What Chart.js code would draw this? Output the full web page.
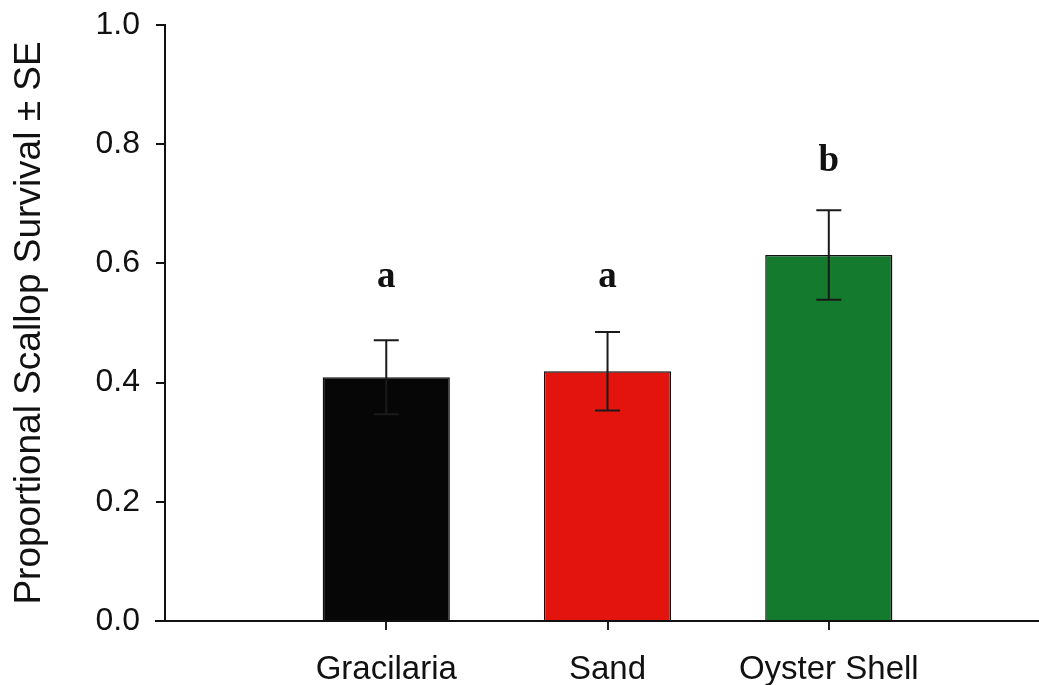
<!DOCTYPE html>
<html>
<head>
<meta charset="UTF-8">
<script src="https://cdn.jsdelivr.net/npm/chart.js"></script>
<title>Scallop survival</title>
<style>
    body { margin: 0; background: #fff; }
    #wrap { width: 1039px; height: 685px; position: relative; }
</style>
</head>
<body>
<div id="wrap"><canvas id="chart"></canvas></div>
<script>
// data
const categories = ['Gracilaria', 'Sand', 'Oyster Shell'];
const survival = [0.409, 0.419, 0.614];
const stdErr = [0.062, 0.066, 0.075];
const groupLetters = ['a', 'a', 'b'];
const letterLevels = [0.56, 0.56, 0.755];
const barColors = ['#060606', '#e3140e', '#137a2e'];

const sansFont = '"Liberation Sans", Arial, sans-serif';

// error bars + significance letters
const extras = {
    id: 'extras',
    afterDatasetsDraw(chart) {
        const ctx = chart.ctx;
        const y = chart.scales.y;
        const meta = chart.getDatasetMeta(0);
        ctx.save();
        meta.data.forEach((bar, i) => {
            const x = bar.x;
            const top = y.getPixelForValue(survival[i] + stdErr[i]);
            const bot = y.getPixelForValue(survival[i] - stdErr[i]);
            ctx.strokeStyle = '#1a1a1a';
            ctx.lineWidth = 2;
            ctx.beginPath();
            ctx.moveTo(x, top); ctx.lineTo(x, bot);
            ctx.moveTo(x - 12.5, top); ctx.lineTo(x + 12.5, top);
            ctx.moveTo(x - 12.5, bot); ctx.lineTo(x + 12.5, bot);
            ctx.stroke();

            ctx.fillStyle = '#111';
            ctx.font = 'bold 37px "Liberation Serif", "Times New Roman", serif';
            ctx.textAlign = 'center';
            ctx.textBaseline = 'alphabetic';
            ctx.fillText(groupLetters[i], x, y.getPixelForValue(letterLevels[i]));
        });
        // x axis line runs a little past the y axis
        const area = chart.chartArea;
        ctx.strokeStyle = '#111';
        ctx.lineWidth = 2;
        ctx.beginPath();
        ctx.moveTo(area.left - 10, area.bottom);
        ctx.lineTo(area.left, area.bottom);
        ctx.stroke();
        ctx.restore();
    }
};

new Chart(document.getElementById('chart'), {
    type: 'bar',
    data: {
        datasets: [{
            data: categories.map((c, i) => ({ x: i + 1, y: survival[i] })),
            backgroundColor: barColors,
            borderColor: '#111',
            borderWidth: 1.5,
            barPercentage: 0.605,
            categoryPercentage: 1
        }]
    },
    options: {
        responsive: true,
        maintainAspectRatio: false,
        animation: false,
        devicePixelRatio: 1,
        layout: { padding: { top: 25, right: 0, bottom: 0, left: 0 } },
        plugins: { legend: { display: false }, tooltip: { enabled: false } },
        scales: {
            x: {
                type: 'linear',
                min: 0,
                max: 3.95,
                offset: false,
                afterFit(scale) {
                    scale.height = 64;
                    scale.paddingLeft = 0;
                    scale.paddingRight = 0;
                },
                ticks: {
                    stepSize: 1,
                    autoSkip: false,
                    maxRotation: 0,
                    padding: 20,
                    color: '#111',
                    font: { family: sansFont, size: 33 },
                    callback: v => categories[v - 1] || ''
                },
                grid: {
                    offset: false,
                    drawOnChartArea: false,
                    tickLength: 9,
                    lineWidth: 2,
                    color: c => (c.tick && categories[c.tick.value - 1]) ? '#222' : 'rgba(0,0,0,0)'
                },
                border: { color: '#111', width: 2 }
            },
            y: {
                min: 0,
                max: 1,
                afterFit(scale) {
                    scale.width = 165;
                    scale.paddingTop = 0;
                    scale.paddingBottom = 0;
                },
                ticks: {
                    stepSize: 0.2,
                    padding: 16,
                    color: '#111',
                    font: { family: sansFont, size: 32 },
                    callback: v => v.toFixed(1)
                },
                grid: {
                    drawOnChartArea: false,
                    tickLength: 9,
                    lineWidth: 2,
                    color: '#111'
                },
                border: { color: '#111', width: 2 },
                title: {
                    display: true,
                    text: 'Proportional Scallop Survival \u00b1 SE',
                    color: '#111',
                    font: { family: sansFont, size: 37 },
                    padding: { top: 8, bottom: 0 }
                }
            }
        }
    },
    plugins: [extras]
});
</script>
</body>
</html>
